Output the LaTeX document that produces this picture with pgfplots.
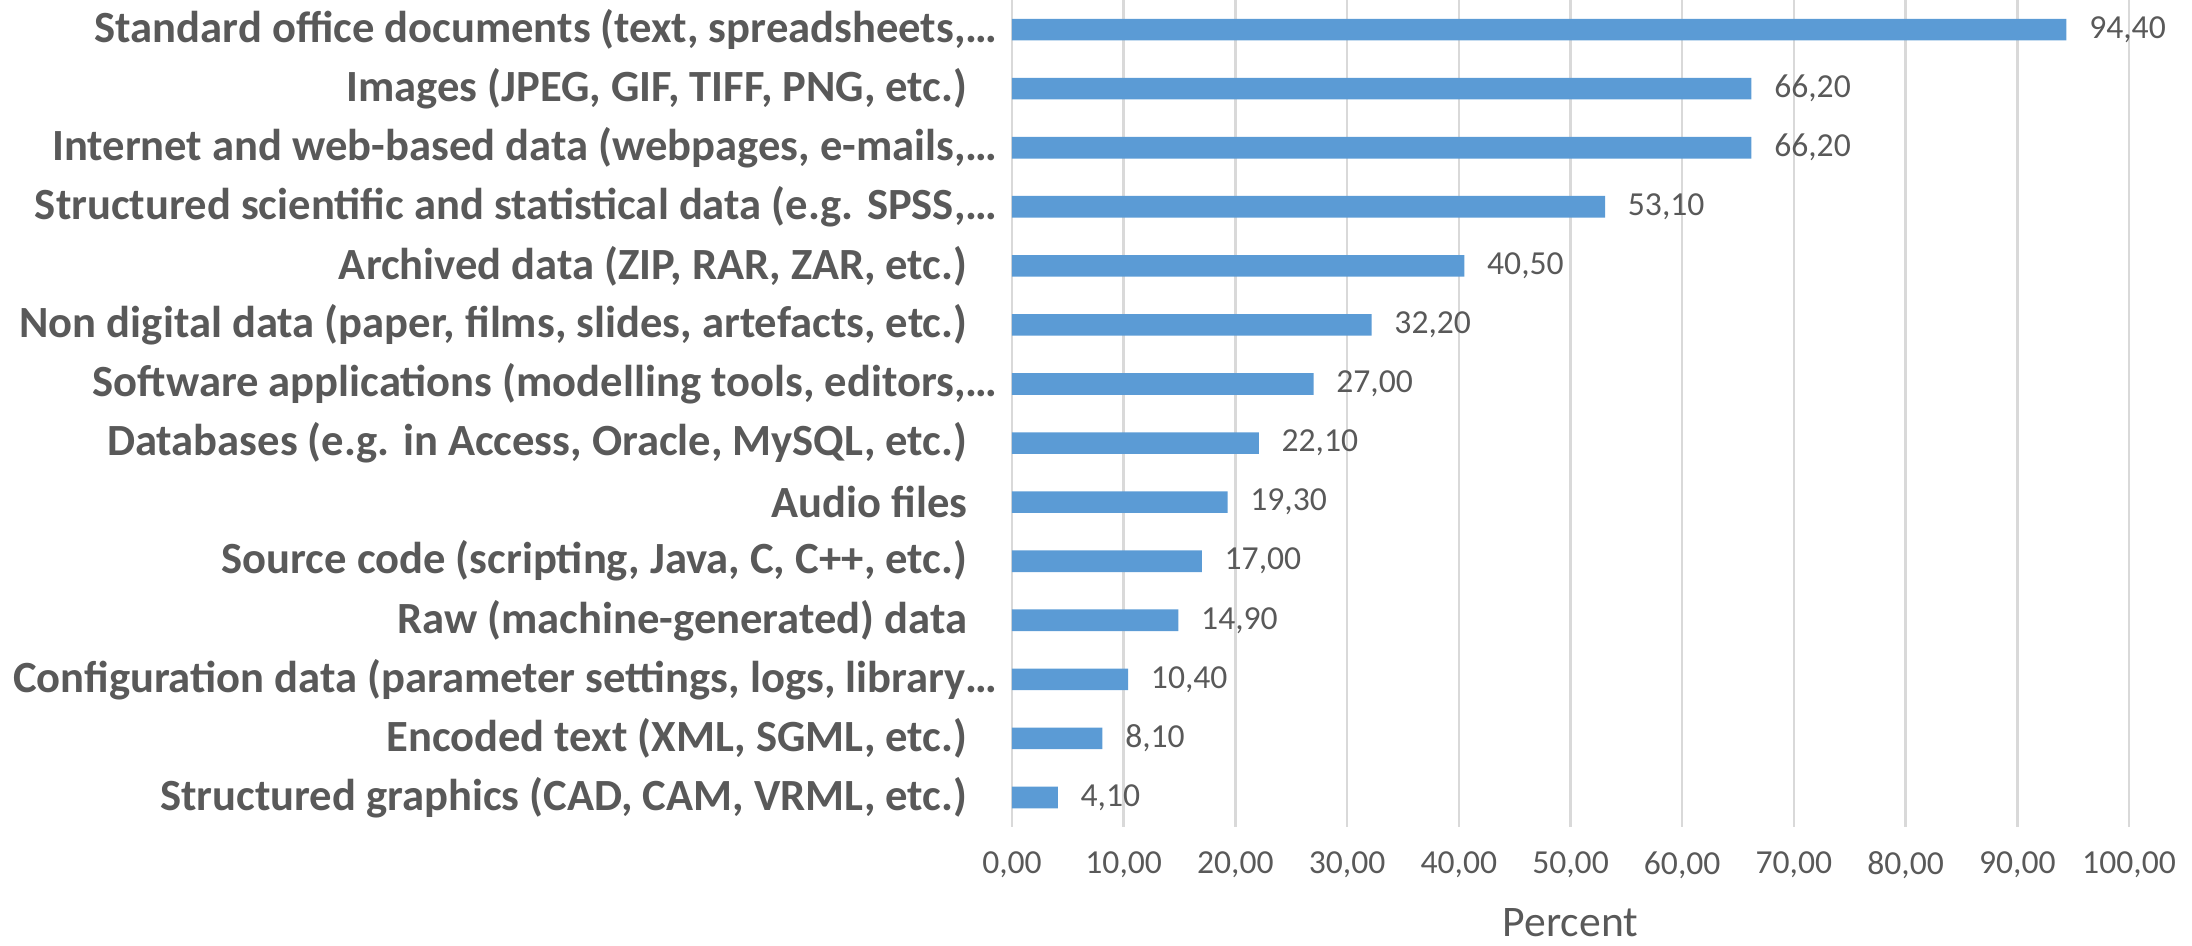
\documentclass[border=0pt]{standalone}
\usepackage{fontspec}
\setmainfont{Carlito}
\usepackage{pgfplots}
\pgfplotsset{compat=1.18}
\definecolor{barblue}{HTML}{5B9BD5}
\definecolor{labgray}{HTML}{595959}
\definecolor{gridgray}{HTML}{D9D9D9}
\newcommand\tsp{\hspace*{7.5pt}}

\begin{document}
\begin{tikzpicture}
\begin{axis}[
    at={(0,0)}, anchor=south west,
    scale only axis, width=279.25pt, height=206.75pt,
    xbar, bar width=5.4pt,
    xmin=0, xmax=100, ymin=-0.5, ymax=13.5,
    y dir=reverse,
    xtick={0,10,...,100},
    ytick={0,...,13},
    yticklabels={
      {Standard office documents (text, spreadsheets,…},
      {Images (JPEG, GIF, TIFF, PNG, etc.)\tsp},
      {Internet and web-based data (webpages, e-mails,…},
      {Structured scientific and statistical data (e.g. SPSS,…},
      {Archived data (ZIP, RAR, ZAR, etc.)\tsp},
      {Non digital data (paper, films, slides, artefacts, etc.)\tsp},
      {Software applications (modelling tools, editors,…},
      {Databases (e.g. in Access, Oracle, MySQL, etc.)\tsp},
      {Audio files\tsp},
      {Source code (scripting, Java, C, C++, etc.)\tsp},
      {Raw (machine-generated) data\tsp},
      {Configuration data (parameter settings, logs, library…},
      {Encoded text (XML, SGML, etc.)\tsp},
      {Structured graphics (CAD, CAM, VRML, etc.)\tsp}},
    axis line style={draw=none},
    major tick length=0pt,
    xmajorgrids, grid style={gridgray, line width=0.6pt},
    /pgf/number format/assume math mode=true,
    xticklabel style={font=\fontsize{8.4}{10}\selectfont, text=labgray,
      anchor=center, yshift=-9.5pt,
      /pgf/number format/.cd, fixed, fixed zerofill, precision=2, use comma},
    yticklabel style={font=\bfseries\fontsize{11.15}{13}\selectfont, text=labgray,
      anchor=east, inner sep=0pt, xshift=-3.5pt},
    xlabel={Percent},
    xlabel style={at={(axis description cs:0.5,0)}, anchor=center, yshift=-24pt,
      font=\fontsize{10.9}{13}\selectfont, text=labgray},
    point meta=x,
    nodes near coords={\pgfmathprintnumber[fixed,fixed zerofill,precision=2,use comma]{\pgfplotspointmeta}},
    nodes near coords style={font=\fontsize{8.4}{10}\selectfont, text=labgray,
      anchor=west, inner sep=0pt, xshift=5.5pt},
]
  \addplot[fill=barblue, draw=none] coordinates {
    (94.4,0) (66.2,1) (66.2,2) (53.1,3) (40.5,4) (32.2,5) (27.0,6)
    (22.1,7) (19.3,8) (17.0,9) (14.9,10) (10.4,11) (8.1,12) (4.1,13)};
\end{axis}
\pgfresetboundingbox
\path (-253pt,-29.5pt) rectangle (295pt,206.75pt);
\end{tikzpicture}
\end{document}
